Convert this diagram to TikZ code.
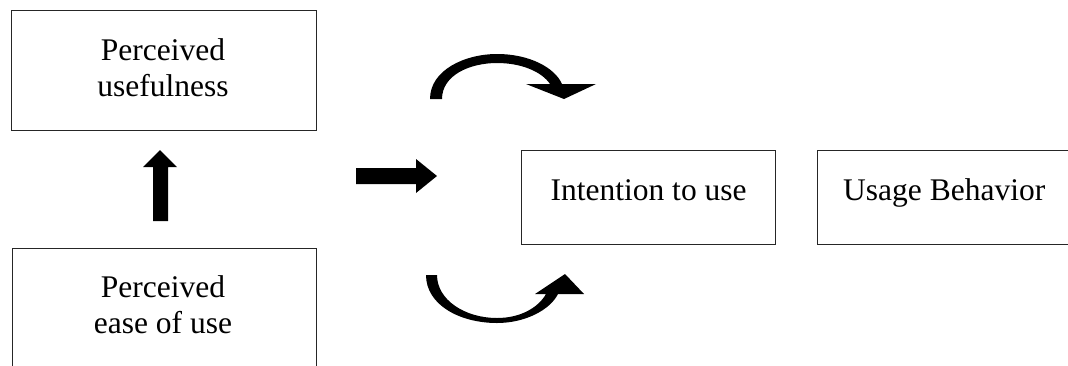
\documentclass[tikz,border=0pt]{standalone}
\usepackage{fontspec}
\setmainfont{Liberation Serif}
\begin{document}
\begin{tikzpicture}[x=1pt,y=-1pt,
  boxline/.style={draw=black!85,line width=1pt},
  box/.style={boxline,rectangle,inner sep=0pt},
  txt/.style={inner sep=0pt,align=center,font=\fontsize{31.5}{36.5}\selectfont},
  blockarrow/.style={fill=black,draw=none}]
\useasboundingbox (0,0) rectangle (1068,365);
% boxes
\node[box,minimum width=304.5pt,minimum height=119.5pt] (pu) at (164,70.5) {};
\node[txt] (putext) at (163,67.5) {Perceived\\usefulness};
\draw[boxline] (12,366) -- (12,248) -- (316,248) -- (316,366);
\coordinate (peou) at (164,248);
\node[txt] (peoutext) at (163,304.6) {Perceived\\ease of use};
\node[box,minimum width=254pt,minimum height=93.5pt] (itu) at (648.7,197.4) {};
\node[txt,anchor=base] (itutext) at (648.6,200.7) {Intention to use};
\draw[boxline] (1070,150.7) -- (817.3,150.7) -- (817.3,244.3) -- (1070,244.3);
\node[txt,anchor=base] (ubtext) at (944.2,200.7) {Usage Behavior};
% up arrow
\fill[blockarrow] (153,221) -- (153,167) -- (143,167) -- (160,150) -- (177,167) -- (168,167) -- (168,221) -- cycle;
% right arrow
\fill[blockarrow] (356,168) -- (416,168) -- (416,159) -- (437,176) -- (416,193) -- (416,184) -- (356,184) -- cycle;
% top curved arrow
\fill[blockarrow] (430,99) .. controls (430,70) and (465,54) .. (497,54)
  .. controls (530,54) and (555,68) .. (562,84) -- (596,84) -- (564,99) -- (526,84) -- (550,84)
  .. controls (542,72) and (522,63) .. (497,63)
  .. controls (470,63) and (442,75) .. (442,99) -- cycle;
% bottom curved arrow
\fill[blockarrow] (426,275) .. controls (426,305) and (460,323) .. (497,323)
  .. controls (525,323) and (550,310) .. (558,294) -- (584,294) -- (565,274) -- (535,294) -- (546,294)
  .. controls (538,308) and (520,318) .. (497,318)
  .. controls (465,318) and (437,300) .. (437,275) -- cycle;
\end{tikzpicture}
\end{document}
